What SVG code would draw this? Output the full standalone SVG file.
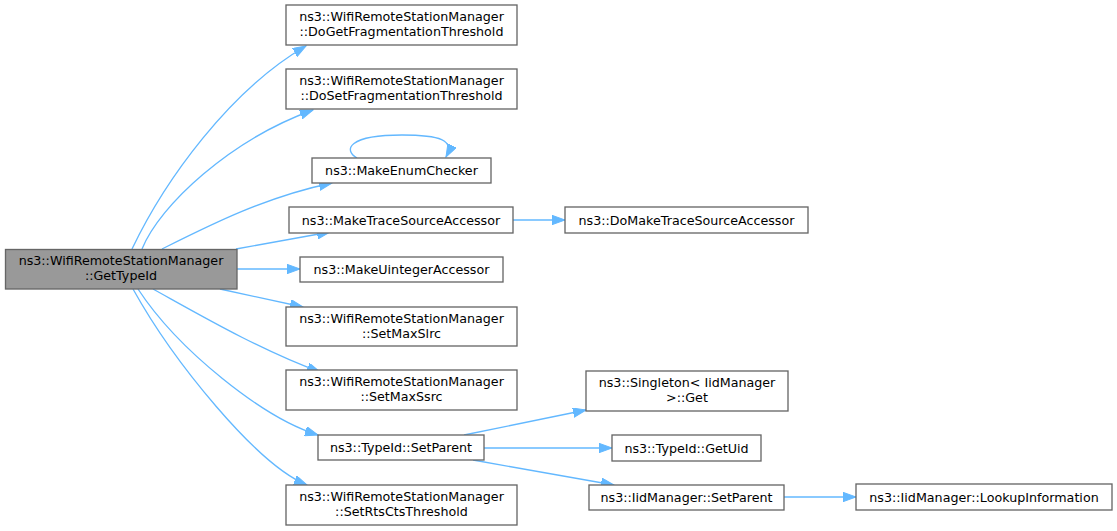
<svg xmlns="http://www.w3.org/2000/svg" width="1117" height="531" viewBox="0 0 1117 531">
<style>
.n rect{fill:#ffffff;stroke:#666666;stroke-width:1.33}
.n.h rect{fill:#999999}
.n text{font-family:"DejaVu Sans","Liberation Sans",sans-serif;font-size:12.7px;fill:#000000;text-anchor:middle}
.e path{fill:none;stroke:#63b8ff;stroke-width:1.33;marker-end:url(#ah)}
</style>
<defs>
<marker id="ah" markerUnits="userSpaceOnUse" markerWidth="14" markerHeight="10" refX="13" refY="4.7" orient="auto" viewBox="0 0 14 10">
<path d="M0,0 L13,4.7 L0,9.4 z" fill="#63b8ff" stroke="#63b8ff" stroke-width="1"/>
</marker>
</defs>
<g id="edges" class="e">
<path d="M132,249 C165,180 230,90 306,46"/>
<path d="M142,249 C160,205 230,140 313,110"/>
<path d="M162,249 C210,225 265,197 332,183"/>
<path d="M236,249 L330,232"/>
<path d="M237,269 L300,269"/>
<path d="M220,289 L303,307"/>
<path d="M153,289 C200,315 260,350 320,372"/>
<path d="M138,289 C178,350 263,418 318,435"/>
<path d="M133,289 C173,361 257,465 307,485"/>
<path d="M513,220 L565,220"/>
<path d="M357,158 C343,150 348,135 402,135 C440,135 455,140 446,157"/>
<path d="M464,435 L586,410"/>
<path d="M484,448 L612,448"/>
<path d="M473,460 L614,485"/>
<path d="M784,497 L856,497"/>
</g>
<g id="GetTypeId" class="n h"><rect x="5.5" y="249.5" width="231.5" height="39.5"/><text x="121" y="265">ns3::WifiRemoteStationManager</text><text x="121" y="280">::GetTypeId</text></g>
<g id="DoGetFragmentationThreshold" class="n"><rect x="286" y="5" width="231" height="40"/><text x="401.5" y="21">ns3::WifiRemoteStationManager</text><text x="401.5" y="36">::DoGetFragmentationThreshold</text></g>
<g id="DoSetFragmentationThreshold" class="n"><rect x="286" y="69" width="231" height="40"/><text x="401.5" y="85">ns3::WifiRemoteStationManager</text><text x="401.5" y="100">::DoSetFragmentationThreshold</text></g>
<g id="MakeEnumChecker" class="n"><rect x="312" y="158" width="179" height="25"/><text x="401.5" y="175">ns3::MakeEnumChecker</text></g>
<g id="MakeTraceSourceAccessor" class="n"><rect x="289" y="207" width="224" height="26"/><text x="401" y="224.5">ns3::MakeTraceSourceAccessor</text></g>
<g id="DoMakeTraceSourceAccessor" class="n"><rect x="565" y="207" width="243" height="26"/><text x="686.5" y="224.5">ns3::DoMakeTraceSourceAccessor</text></g>
<g id="MakeUintegerAccessor" class="n"><rect x="300" y="257" width="203" height="25"/><text x="401.5" y="274">ns3::MakeUintegerAccessor</text></g>
<g id="SetMaxSlrc" class="n"><rect x="286" y="307" width="231" height="39"/><text x="401.5" y="323">ns3::WifiRemoteStationManager</text><text x="401.5" y="338">::SetMaxSlrc</text></g>
<g id="SetMaxSsrc" class="n"><rect x="286" y="370" width="231" height="40"/><text x="401.5" y="386">ns3::WifiRemoteStationManager</text><text x="401.5" y="401">::SetMaxSsrc</text></g>
<g id="TypeIdSetParent" class="n"><rect x="318" y="435" width="166" height="25"/><text x="401" y="452">ns3::TypeId::SetParent</text></g>
<g id="SetRtsCtsThreshold" class="n"><rect x="286" y="485" width="231" height="40"/><text x="401.5" y="501">ns3::WifiRemoteStationManager</text><text x="401.5" y="516">::SetRtsCtsThreshold</text></g>
<g id="SingletonGet" class="n"><rect x="586" y="371" width="202" height="40"/><text x="687" y="387">ns3::Singleton&lt; IidManager</text><text x="687" y="402">&gt;::Get</text></g>
<g id="GetUid" class="n"><rect x="612" y="435" width="149" height="26"/><text x="686.5" y="452.5">ns3::TypeId::GetUid</text></g>
<g id="IidManagerSetParent" class="n"><rect x="589" y="485" width="195" height="25"/><text x="686.5" y="502">ns3::IidManager::SetParent</text></g>
<g id="LookupInformation" class="n"><rect x="856" y="484" width="256" height="26"/><text x="984" y="501.5">ns3::IidManager::LookupInformation</text></g>
</svg>
